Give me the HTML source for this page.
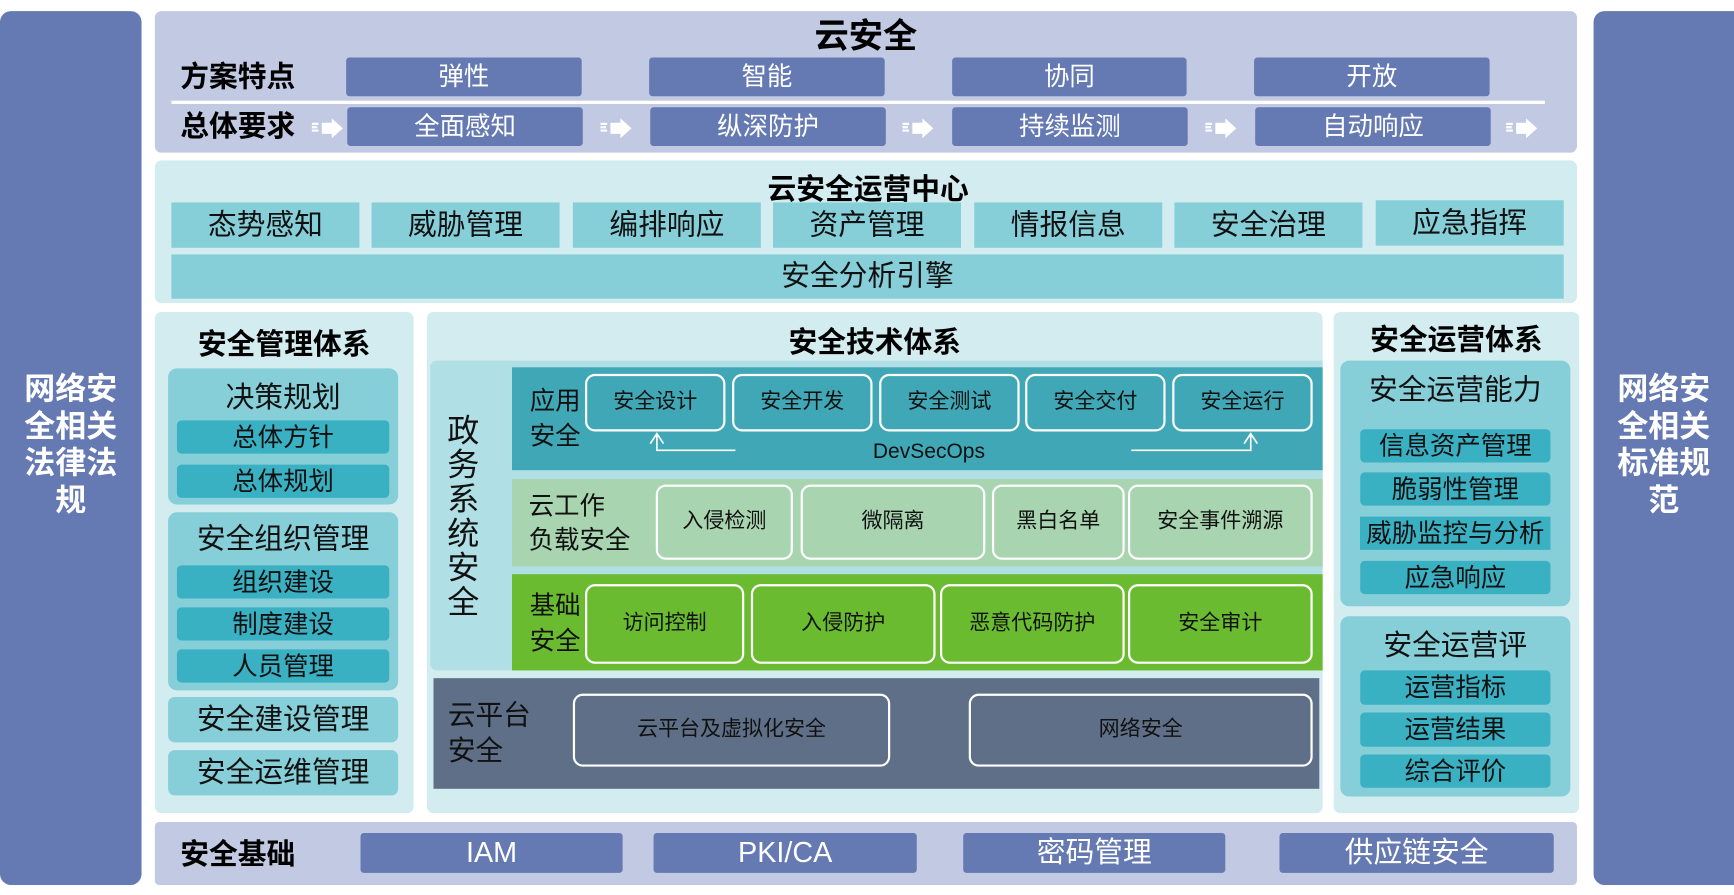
<!DOCTYPE html>
<html><head><meta charset="utf-8"><style>
html,body{margin:0;padding:0;background:#fff;overflow:hidden;width:1734px;height:895px}
#c{position:absolute;left:0;top:0;width:1568px;height:809px;transform:scale(1.10587,1.10631);transform-origin:0 0;font-family:"Liberation Sans","Noto Sans CJK SC",sans-serif}
#c div{position:absolute;box-sizing:border-box;display:flex;align-items:center;justify-content:center;text-align:center;line-height:1.15;white-space:nowrap}
.pb{background:#6579b2;color:#fff;font-size:23px;border-radius:3px}
.p{background:#c2c9e2}
.l{background:#d3ecf0;border-radius:6px}
.t{background:#86ced8;color:#111;font-size:26px}
.s{background:#3ab0c3;color:#111;font-size:23px;border-radius:4px}
.b{font-weight:bold;color:#000;font-size:26px}
.w{border:2px solid #fff;border-radius:9px;font-size:19px;color:#111}
</style></head><body><div id="c">
<div style="left:0;top:10px;width:128px;height:790px;background:#6579b2;border-radius:10px;color:#fff;font-weight:bold;font-size:28px;align-items:flex-start;padding-top:325px;line-height:1.2;white-space:normal">网络安<br>全相关<br>法律法<br>规</div>
<div style="left:1441px;top:10px;width:127px;height:790px;background:#6579b2;border-radius:10px 0 0 10px;color:#fff;font-weight:bold;font-size:28px;align-items:flex-start;padding-top:325px;line-height:1.2;white-space:normal">网络安<br>全相关<br>标准规<br>范</div>

<div class="p" style="left:140px;top:10px;width:1286px;height:128px;border-radius:6px"></div>
<div class="b" style="left:683px;top:15px;width:200px;height:36px;font-size:31px">云安全</div>
<div class="b" style="left:150px;top:54px;width:130px;height:32px">方案特点</div>
<div class="b" style="left:150px;top:99px;width:130px;height:32px">总体要求</div>
<div style="left:155px;top:91px;width:1242px;height:3px;background:#fff"></div>
<div class="pb" style="left:313px;top:52px;width:213px;height:35px">弹性</div>
<div class="pb" style="left:587px;top:52px;width:213px;height:35px">智能</div>
<div class="pb" style="left:861px;top:52px;width:212px;height:35px">协同</div>
<div class="pb" style="left:1134px;top:52px;width:213px;height:35px">开放</div>
<div class="pb" style="left:314px;top:97px;width:213px;height:35px">全面感知</div>
<div class="pb" style="left:588px;top:97px;width:213px;height:35px">纵深防护</div>
<div class="pb" style="left:861px;top:97px;width:213px;height:35px">持续监测</div>
<div class="pb" style="left:1135px;top:97px;width:213px;height:35px">自动响应</div>
<svg style="position:absolute;left:0;top:0" width="1568" height="809">
<defs><g id="ar"><path d="M0 3h6M0 6h5M0 9h6" stroke="#fff" stroke-width="2"/><path d="M9 2h9v-4l10 9-10 9v-4h-9z" fill="#fff"/></g></defs>
<use href="#ar" x="282" y="109"/><use href="#ar" x="543" y="109"/><use href="#ar" x="816" y="109"/><use href="#ar" x="1090" y="109"/><use href="#ar" x="1362" y="109"/>
</svg>

<div class="l" style="left:140px;top:145px;width:1286px;height:129px"></div>
<div class="b" style="left:640px;top:156px;width:290px;height:32px">云安全运营中心</div>
<div class="t" style="left:155px;top:183px;width:170px;height:41px">态势感知</div>
<div class="t" style="left:336px;top:183px;width:170px;height:41px">威胁管理</div>
<div class="t" style="left:518px;top:183px;width:170px;height:41px">编排响应</div>
<div class="t" style="left:699px;top:183px;width:170px;height:41px">资产管理</div>
<div class="t" style="left:881px;top:183px;width:170px;height:41px">情报信息</div>
<div class="t" style="left:1062px;top:183px;width:170px;height:41px">安全治理</div>
<div class="t" style="left:1244px;top:181px;width:170px;height:41px">应急指挥</div>
<div class="t" style="left:155px;top:230px;width:1259px;height:40px">安全分析引擎</div>

<div class="l" style="left:140px;top:282px;width:234px;height:453px"></div>
<div class="b" style="left:140px;top:296px;width:234px;height:32px">安全管理体系</div>
<div class="t" style="left:152px;top:333px;width:208px;height:123px;border-radius:8px;align-items:flex-start;padding-top:12px">决策规划</div>
<div class="s" style="left:160px;top:380px;width:192px;height:30px">总体方针</div>
<div class="s" style="left:160px;top:420px;width:192px;height:30px">总体规划</div>
<div class="t" style="left:152px;top:463px;width:208px;height:161px;border-radius:8px;align-items:flex-start;padding-top:10px">安全组织管理</div>
<div class="s" style="left:160px;top:511px;width:192px;height:30px">组织建设</div>
<div class="s" style="left:160px;top:549px;width:192px;height:30px">制度建设</div>
<div class="s" style="left:160px;top:587px;width:192px;height:30px">人员管理</div>
<div class="t" style="left:152px;top:630px;width:208px;height:41px;border-radius:6px">安全建设管理</div>
<div class="t" style="left:152px;top:678px;width:208px;height:41px;border-radius:6px">安全运维管理</div>

<div class="l" style="left:386px;top:282px;width:810px;height:453px"></div>
<div class="b" style="left:386px;top:294px;width:810px;height:32px">安全技术体系</div>
<div style="left:389px;top:326px;width:807px;height:280px;background:#b0dfe5;border-radius:6px 0 0 6px"></div>
<div style="left:400px;top:372px;width:38px;height:192px;font-size:29px;color:#111;line-height:1.07;white-space:normal">政<br>务<br>系<br>统<br>安<br>全</div>
<div style="left:463px;top:332px;width:733px;height:93px;background:#3fa7b5"></div>
<div style="left:472px;top:345px;width:60px;height:66px;font-size:23px;color:#111;line-height:1.4;white-space:normal">应用<br>安全</div>
<div class="w" style="left:529px;top:338px;width:127px;height:52px">安全设计</div>
<div class="w" style="left:662px;top:338px;width:127px;height:52px">安全开发</div>
<div class="w" style="left:795px;top:338px;width:127px;height:52px">安全测试</div>
<div class="w" style="left:927px;top:338px;width:127px;height:52px">安全交付</div>
<div class="w" style="left:1060px;top:338px;width:127px;height:52px">安全运行</div>
<svg style="position:absolute;left:0;top:0" width="1568" height="809"><g stroke="#fff" stroke-width="1.5" fill="none"><path d="M665 407H594V393M588 401l6-9 6 9M1023 407H1131V393M1125 401l6-9 6 9"/></g></svg>
<div style="left:760px;top:397px;width:160px;height:24px;font-size:19px;color:#111">DevSecOps</div>

<div style="left:463px;top:433px;width:733px;height:79px;background:#a8d4b0"></div>
<div style="left:470px;top:442px;width:120px;height:62px;font-size:23px;color:#111;line-height:1.35;justify-content:flex-start;text-align:left;padding-left:8px;white-space:normal">云工作<br>负载安全</div>
<div class="w" style="left:593px;top:438px;width:124px;height:68px">入侵检测</div>
<div class="w" style="left:724px;top:438px;width:167px;height:68px">微隔离</div>
<div class="w" style="left:897px;top:438px;width:120px;height:68px">黑白名单</div>
<div class="w" style="left:1020px;top:438px;width:167px;height:68px">安全事件溯源</div>

<div style="left:463px;top:519px;width:733px;height:87px;background:#6abb30"></div>
<div style="left:472px;top:530px;width:60px;height:66px;font-size:23px;color:#111;line-height:1.4;white-space:normal">基础<br>安全</div>
<div class="w" style="left:529px;top:528px;width:144px;height:72px">访问控制</div>
<div class="w" style="left:679px;top:528px;width:167px;height:72px">入侵防护</div>
<div class="w" style="left:850px;top:528px;width:167px;height:72px">恶意代码防护</div>
<div class="w" style="left:1020px;top:528px;width:167px;height:72px">安全审计</div>

<div style="left:392px;top:613px;width:801px;height:100px;background:#5e6f87"></div>
<div style="left:400px;top:628px;width:100px;height:70px;font-size:25px;color:#111;line-height:1.3;justify-content:flex-start;text-align:left;padding-left:5px;white-space:normal">云平台<br>安全</div>
<div class="w" style="left:518px;top:627px;width:287px;height:66px">云平台及虚拟化安全</div>
<div class="w" style="left:876px;top:627px;width:311px;height:66px">网络安全</div>

<div class="l" style="left:1206px;top:282px;width:222px;height:453px"></div>
<div class="b" style="left:1206px;top:292px;width:222px;height:32px">安全运营体系</div>
<div class="t" style="left:1212px;top:326px;width:208px;height:222px;border-radius:8px;align-items:flex-start;padding-top:12px">安全运营能力</div>
<div class="s" style="left:1230px;top:388px;width:172px;height:30px">信息资产管理</div>
<div class="s" style="left:1230px;top:427px;width:172px;height:30px">脆弱性管理</div>
<div class="s" style="left:1218px;top:467px;width:196px;height:30px;background:linear-gradient(90deg,transparent 12px,#3ab0c3 12px,#3ab0c3 184px,transparent 184px)">威胁监控与分析</div>
<div class="s" style="left:1230px;top:507px;width:172px;height:30px">应急响应</div>
<div class="t" style="left:1212px;top:557px;width:208px;height:163px;border-radius:8px;align-items:flex-start;padding-top:12px">安全运营评</div>
<div class="s" style="left:1230px;top:606px;width:172px;height:31px">运营指标</div>
<div class="s" style="left:1230px;top:644px;width:172px;height:31px">运营结果</div>
<div class="s" style="left:1230px;top:682px;width:172px;height:30px">综合评价</div>

<div class="p" style="left:140px;top:743px;width:1286px;height:57px;border-radius:4px"></div>
<div class="b" style="left:150px;top:757px;width:130px;height:32px">安全基础</div>
<div class="pb" style="left:326px;top:753px;width:237px;height:36px;font-size:26px">IAM</div>
<div class="pb" style="left:591px;top:753px;width:238px;height:36px;font-size:26px">PKI/CA</div>
<div class="pb" style="left:871px;top:753px;width:237px;height:36px;font-size:26px">密码管理</div>
<div class="pb" style="left:1157px;top:753px;width:248px;height:36px;font-size:26px">供应链安全</div>
</div></body></html>
